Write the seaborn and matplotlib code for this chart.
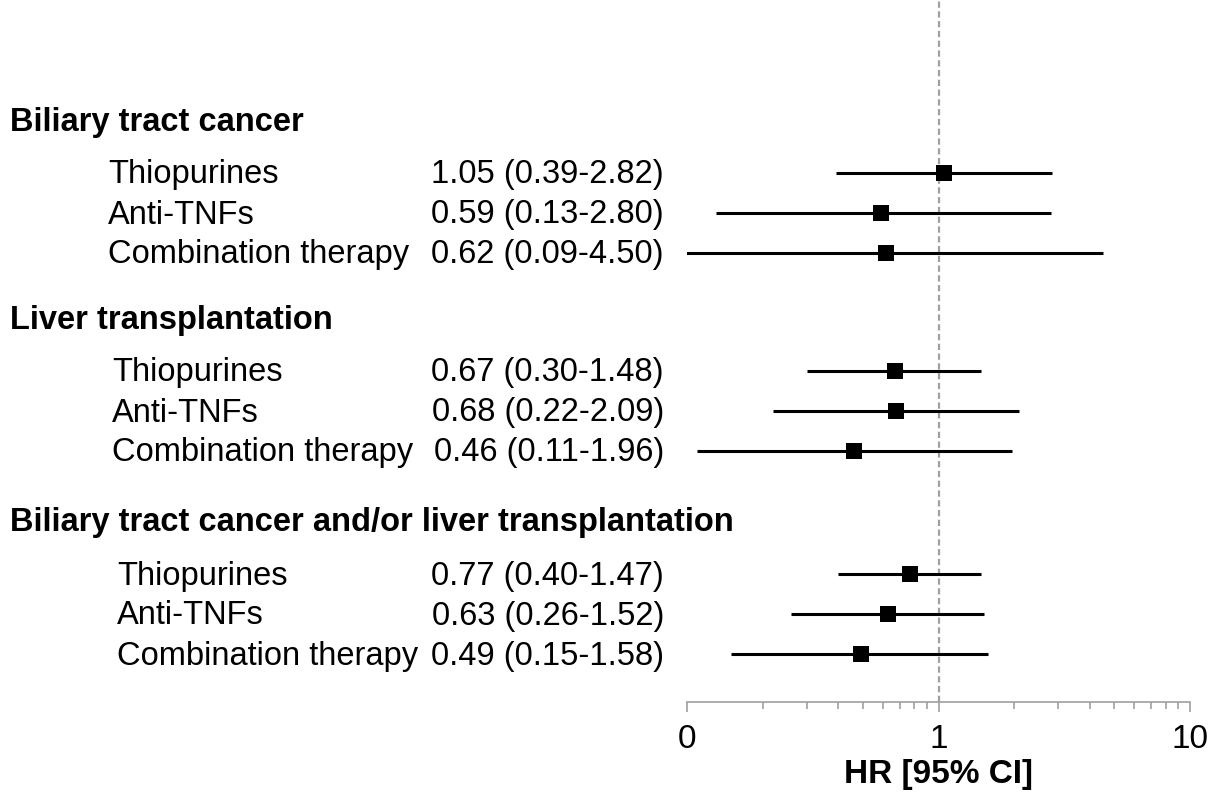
import pandas as pd
import matplotlib.pyplot as plt
import matplotlib.transforms as mtransforms
import seaborn as sns
import numpy as np

# data
groups = ["Biliary tract cancer", "Liver transplantation",
          "Biliary tract cancer and/or liver transplantation"]
treatments = ["Thiopurines", "Anti-TNFs", "Combination therapy"]

hr = [1.05, 0.59, 0.62, 0.67, 0.68, 0.46, 0.77, 0.63, 0.49]
ci_lo = [0.39, 0.13, 0.09, 0.30, 0.22, 0.11, 0.40, 0.26, 0.15]
ci_hi = [2.82, 2.80, 4.50, 1.48, 2.09, 1.96, 1.47, 1.52, 1.58]

xticks = [0.1, 1, 10]
xticklabels = ["0", "1", "10"]

# layout (pixel rows, figure is 1221x794)
W, H = 1221, 794
header_y = [120, 318, 521]
first_row_gap = 53
row_step = 40
label_x = [108, 112, 117]
hr_right = 664

rows = []
for g, grp in enumerate(groups):
    for i, t in enumerate(treatments):
        k = g * 3 + i
        rows.append({"group": grp, "treat": t, "g": g,
                     "y": header_y[g] + first_row_gap + row_step * i,
                     "hr": hr[k], "lo": ci_lo[k], "hi": ci_hi[k]})
df = pd.DataFrame(rows)

sns.set_style("white")
plt.rcParams["font.family"] = ["Liberation Sans", "DejaVu Sans"]
plt.rcParams["text.color"] = "black"
plt.rcParams["xtick.color"] = "black"
plt.rcParams["axes.labelcolor"] = "black"

fig = plt.figure(figsize=(W / 100, H / 100), dpi=100)
ax = fig.add_axes([687 / W, (H - 702) / H, (1190 - 687) / W, 702 / H])

ax.set_xscale("log")
ax.set_xlim(0.1, 10)
ax.set_ylim(702, 0)

# reference line at HR = 1
ax.axvline(1, color="#a0a0a0", lw=1.6, ls=(0, (2.8, 1.6)), zorder=1)

# confidence intervals
ax.hlines(df["y"], df["lo"], df["hi"], color="black", lw=2.2, zorder=2)
sns.scatterplot(data=df, x="hr", y="y", marker="s", s=135, color="black",
                edgecolor="black", linewidth=0, ax=ax, zorder=3, legend=False)

# text columns
trans = mtransforms.blended_transform_factory(fig.transFigure, ax.transData)
for g, grp in enumerate(groups):
    ax.text(10 / W, header_y[g] + 2, grp, transform=trans, fontsize=23.5,
            fontweight="bold", va="center", ha="left", clip_on=False)
for _, r in df.iterrows():
    ax.text(label_x[r["g"]] / W, r["y"] + 2, r["treat"], transform=trans,
            fontsize=23.5, va="center", ha="left", clip_on=False)
    ax.text(hr_right / W, r["y"] + 2, f"{r['hr']:.2f} ({r['lo']:.2f}-{r['hi']:.2f})",
            transform=trans, fontsize=23.5, va="center", ha="right", clip_on=False)

# axis styling
for s in ["top", "right", "left"]:
    ax.spines[s].set_visible(False)
ax.spines["bottom"].set_color("#a0a0a0")
ax.spines["bottom"].set_linewidth(1.2)
ax.set_yticks([])
ax.set_xticks(xticks)
ax.set_xticklabels(xticklabels, fontsize=24)
ax.tick_params(axis="x", which="both", direction="out", color="#a0a0a0",
               width=1.2, bottom=True, labelcolor="black")
ax.tick_params(axis="x", which="major", length=7, pad=9)
ax.tick_params(axis="x", which="minor", length=5)
ax.set_xlabel("HR [95% CI]", fontsize=24, fontweight="bold", labelpad=3)
ax.set_ylabel("")

fig.savefig("out.png", dpi=100)
